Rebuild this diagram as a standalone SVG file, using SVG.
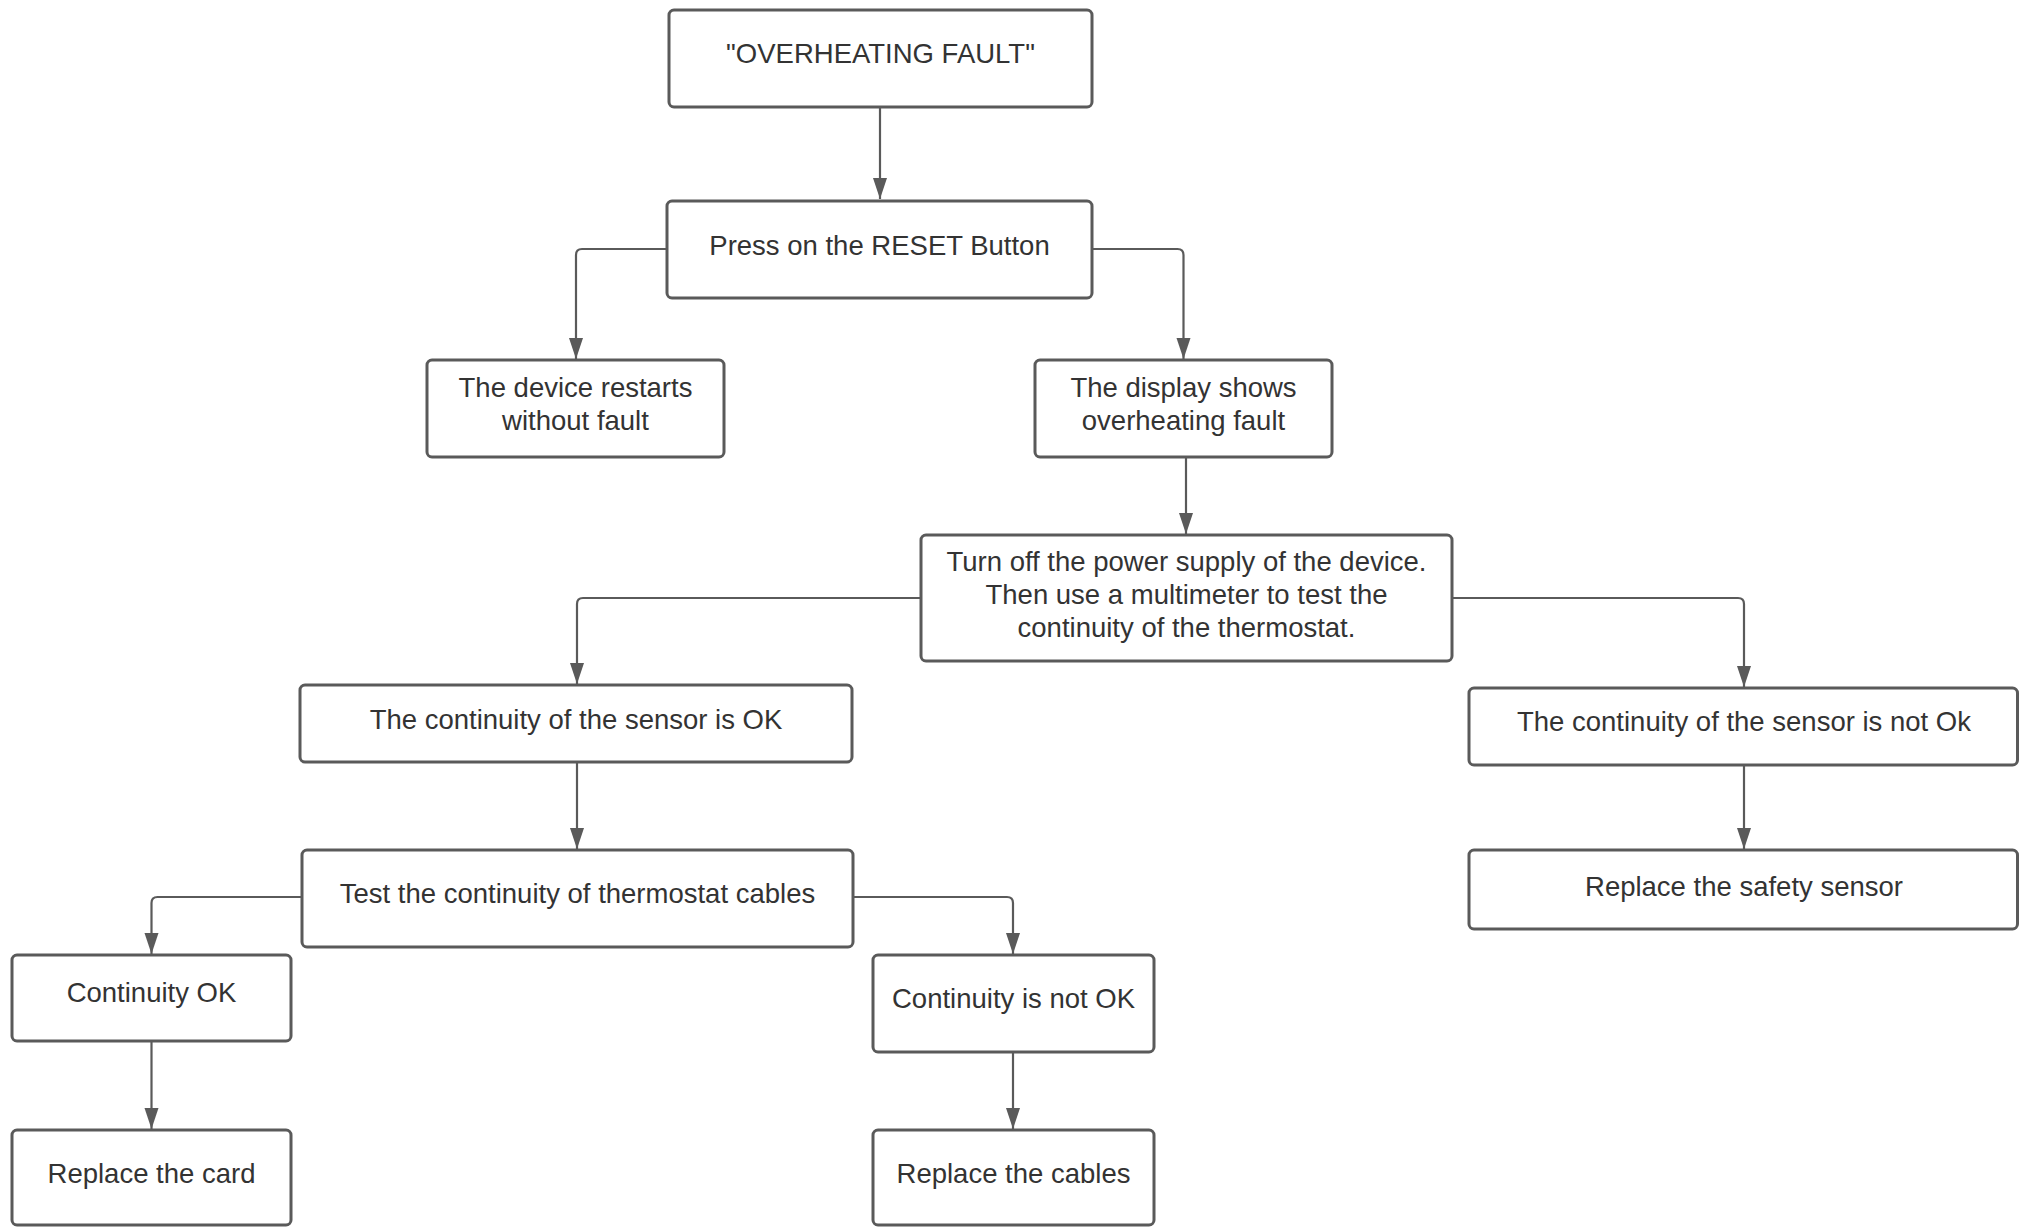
<svg xmlns="http://www.w3.org/2000/svg" width="2020" height="1227" viewBox="0 0 2020 1227">
<defs>
<style>
.box{fill:#ffffff;stroke:#5a5a5a;stroke-width:3}
.lbl{font-family:"Liberation Sans",Arial,sans-serif;font-size:27.5px;fill:#333333;text-anchor:middle}
.con{fill:none;stroke:#5a5a5a;stroke-width:2.2}
</style>
<marker id="arr" markerUnits="userSpaceOnUse" markerWidth="16" markerHeight="22" refX="7.5" refY="21" orient="auto-start-reverse" viewBox="0 0 16 22">
<path d="M0.5,0 L14.5,0 L7.5,21 Z" fill="#5a5a5a" transform="rotate(0)"/>
</marker>
<marker id="ah" markerUnits="userSpaceOnUse" markerWidth="22" markerHeight="16" refX="21" refY="7.5" orient="auto" viewBox="0 0 22 15">
<path d="M0,0.5 L21,7.5 L0,14.5 Z" fill="#5a5a5a"/>
</marker>
</defs>
<rect width="2020" height="1227" fill="#ffffff"/>
<g id="connectors">
<path class="con" marker-end="url(#ah)" d="M880,107 L880,199"/>
<path class="con" marker-end="url(#ah)" d="M667,249 L582,249 Q576,249 576,255 L576,359"/>
<path class="con" marker-end="url(#ah)" d="M1092,249 L1177.5,249 Q1183.5,249 1183.5,255 L1183.5,359"/>
<path class="con" marker-end="url(#ah)" d="M1186,457 L1186,534"/>
<path class="con" marker-end="url(#ah)" d="M921,598 L583,598 Q577,598 577,604 L577,684"/>
<path class="con" marker-end="url(#ah)" d="M1452,598 L1738,598 Q1744,598 1744,604 L1744,687"/>
<path class="con" marker-end="url(#ah)" d="M577,763 L577,849"/>
<path class="con" marker-end="url(#ah)" d="M1744,765 L1744,849"/>
<path class="con" marker-end="url(#ah)" d="M302,897 L157.5,897 Q151.5,897 151.5,903 L151.5,954"/>
<path class="con" marker-end="url(#ah)" d="M853,897 L1007,897 Q1013,897 1013,903 L1013,954"/>
<path class="con" marker-end="url(#ah)" d="M151.5,1041 L151.5,1129"/>
<path class="con" marker-end="url(#ah)" d="M1013,1052 L1013,1129"/>
</g>
<g id="n1"><rect class="box" x="669" y="10" width="423" height="97" rx="5"/><text class="lbl" x="880.5" y="63">"OVERHEATING FAULT"</text></g>
<g id="n2"><rect class="box" x="667" y="201" width="425" height="97" rx="5"/><text class="lbl" x="879.5" y="255">Press on the RESET Button</text></g>
<g id="n3"><rect class="box" x="427" y="360" width="297" height="97" rx="5"/><text class="lbl" x="575.5" y="397">The device restarts</text><text class="lbl" x="575.5" y="430">without fault</text></g>
<g id="n4"><rect class="box" x="1035" y="360" width="297" height="97" rx="5"/><text class="lbl" x="1183.5" y="397">The display shows</text><text class="lbl" x="1183.5" y="430">overheating fault</text></g>
<g id="n5"><rect class="box" x="921" y="535" width="531" height="126" rx="5"/><text class="lbl" x="1186.5" y="571">Turn off the power supply of the device.</text><text class="lbl" x="1186.5" y="604">Then use a multimeter to test the</text><text class="lbl" x="1186.5" y="637">continuity of the thermostat.</text></g>
<g id="n6"><rect class="box" x="300" y="685" width="552" height="77" rx="5"/><text class="lbl" x="576" y="729">The continuity of the sensor is OK</text></g>
<g id="n7"><rect class="box" x="1469" y="688" width="548.5" height="77" rx="5"/><text class="lbl" x="1744" y="731">The continuity of the sensor is not Ok</text></g>
<g id="n8"><rect class="box" x="302" y="850" width="551" height="97" rx="5"/><text class="lbl" x="577.5" y="903">Test the continuity of thermostat cables</text></g>
<g id="n9"><rect class="box" x="1469" y="850" width="548.5" height="79" rx="5"/><text class="lbl" x="1744" y="896">Replace the safety sensor</text></g>
<g id="n10"><rect class="box" x="12" y="955" width="279" height="86" rx="5"/><text class="lbl" x="151.5" y="1002">Continuity OK</text></g>
<g id="n11"><rect class="box" x="873" y="955" width="281" height="97" rx="5"/><text class="lbl" x="1013.5" y="1008">Continuity is not OK</text></g>
<g id="n12"><rect class="box" x="12" y="1130" width="279" height="95" rx="5"/><text class="lbl" x="151.5" y="1183">Replace the card</text></g>
<g id="n13"><rect class="box" x="873" y="1130" width="281" height="95" rx="5"/><text class="lbl" x="1013.5" y="1183">Replace the cables</text></g>
</svg>
